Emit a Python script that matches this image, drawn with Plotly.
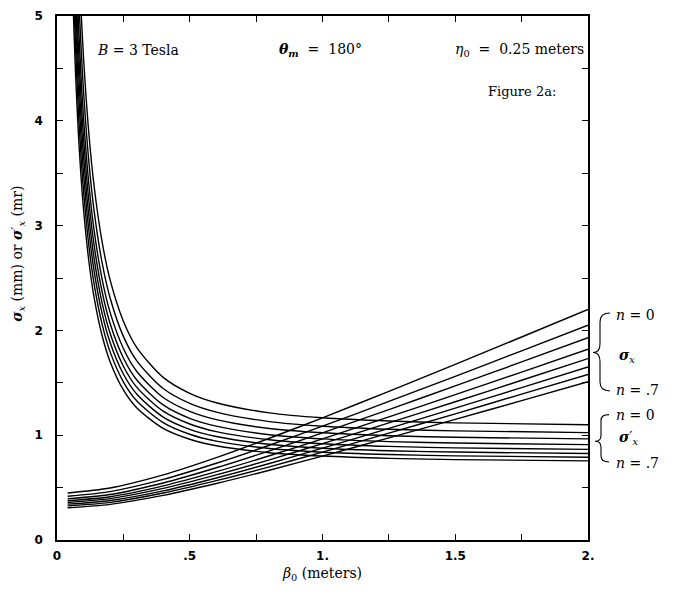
import plotly.graph_objects as go

# ---- data ----
n_labels = ["n=0", "n=.1", "n=.2", "n=.3", "n=.4", "n=.5", "n=.6", "n=.7"]

beta_sx = [0.04, 0.2, 0.4, 0.6, 0.8, 1.0, 1.25, 1.5, 1.75, 2.0]
sigx_n0 = [0.449, 0.496, 0.621, 0.786, 0.971, 1.166, 1.419, 1.676, 1.937, 2.200]
sigx_n1 = [0.418, 0.462, 0.578, 0.732, 0.904, 1.086, 1.322, 1.562, 1.805, 2.050]
sigx_n2 = [0.393, 0.434, 0.544, 0.689, 0.851, 1.023, 1.244, 1.471, 1.699, 1.930]
sigx_n3 = [0.375, 0.413, 0.516, 0.652, 0.804, 0.965, 1.174, 1.387, 1.602, 1.820]
sigx_n4 = [0.358, 0.395, 0.492, 0.621, 0.765, 0.919, 1.117, 1.319, 1.524, 1.731]
sigx_n5 = [0.342, 0.377, 0.469, 0.592, 0.730, 0.876, 1.065, 1.258, 1.454, 1.651]
sigx_n6 = [0.326, 0.359, 0.448, 0.566, 0.698, 0.839, 1.020, 1.204, 1.392, 1.580]
sigx_n7 = [0.308, 0.340, 0.426, 0.539, 0.666, 0.801, 0.974, 1.151, 1.330, 1.511]

beta_sxp = [0.05, 0.06, 0.07, 0.08, 0.09, 0.10, 0.12, 0.14, 0.17, 0.2,
            0.25, 0.3, 0.4, 0.5, 0.6, 0.8, 1.0, 1.25, 1.5, 2.0]
sxp_n0 = [9.009, 7.531, 6.479, 5.693, 5.084, 4.600, 3.879, 3.371, 2.843, 2.482,
          2.088, 1.839, 1.552, 1.400, 1.310, 1.213, 1.166, 1.135, 1.118, 1.100]
sxp_n1 = [8.379, 7.004, 6.026, 5.295, 4.729, 4.279, 3.608, 3.136, 2.644, 2.309,
          1.943, 1.711, 1.445, 1.303, 1.220, 1.130, 1.086, 1.057, 1.041, 1.025]
sxp_n2 = [7.880, 6.587, 5.667, 4.980, 4.448, 4.024, 3.394, 2.949, 2.487, 2.172,
          1.828, 1.610, 1.360, 1.227, 1.148, 1.064, 1.023, 0.995, 0.980, 0.965]
sxp_n3 = [7.510, 6.277, 5.400, 4.745, 4.237, 3.833, 3.232, 2.808, 2.367, 2.066,
          1.737, 1.529, 1.289, 1.161, 1.086, 1.005, 0.965, 0.939, 0.925, 0.910]
sxp_n4 = [7.178, 6.000, 5.161, 4.534, 4.049, 3.663, 3.088, 2.683, 2.261, 1.973,
          1.658, 1.459, 1.229, 1.107, 1.034, 0.957, 0.919, 0.893, 0.879, 0.865]
sxp_n5 = [6.859, 5.734, 4.932, 4.333, 3.870, 3.500, 2.951, 2.563, 2.160, 1.885,
          1.584, 1.393, 1.173, 1.056, 0.987, 0.913, 0.876, 0.852, 0.839, 0.825]
sxp_n6 = [6.527, 5.456, 4.693, 4.124, 3.683, 3.331, 2.809, 2.440, 2.057, 1.795,
          1.509, 1.328, 1.120, 1.009, 0.943, 0.873, 0.838, 0.816, 0.803, 0.790]
sxp_n7 = [6.176, 5.163, 4.442, 3.903, 3.486, 3.154, 2.660, 2.311, 1.949, 1.702,
          1.432, 1.262, 1.065, 0.961, 0.899, 0.833, 0.801, 0.779, 0.767, 0.755]

x_tickvals = [0, 0.5, 1.0, 1.5, 2.0]
x_ticktext = ["0", ".5", "1.", "1.5", "2."]
y_tickvals = [0, 1, 2, 3, 4, 5]
y_ticktext = ["0", "1", "2", "3", "4", "5"]

sigx_all = [sigx_n0, sigx_n1, sigx_n2, sigx_n3, sigx_n4, sigx_n5, sigx_n6, sigx_n7]
sxp_all = [sxp_n0, sxp_n1, sxp_n2, sxp_n3, sxp_n4, sxp_n5, sxp_n6, sxp_n7]

# ---- layout geometry (pixels) ----
W, H = 676, 597
L, R, T, B = 57, 88, 9, 57
PW, PH = W - L - R, H - T - B


def px(X):
    return (X - L) / PW


def py(Y):
    return (H - B - Y) / PH


fig = go.Figure()
line = dict(color="black", width=1.4, shape="spline", smoothing=0.8)
for name, ys in zip(n_labels, sigx_all):
    fig.add_trace(go.Scatter(x=beta_sx, y=ys, mode="lines", line=line,
                             name="σx " + name, showlegend=False, hoverinfo="skip"))
for name, ys in zip(n_labels, sxp_all):
    fig.add_trace(go.Scatter(x=beta_sxp, y=ys, mode="lines", line=line,
                             name="σ'x " + name, showlegend=False, hoverinfo="skip"))

serif = "DejaVu Serif"
ann = []
SP = "&nbsp;"


def txt(X, Y, s, size=14, xanchor="left", yanchor="middle", angle=0):
    ann.append(dict(x=px(X), y=py(Y), xref="paper", yref="paper", text=s,
                    showarrow=False, xanchor=xanchor, yanchor=yanchor,
                    textangle=angle, font=dict(family=serif, size=size, color="black")))


txt(95, 43, "<i>B</i> = 3 Tesla", size=14)
txt(277, 43, "<b><i>θ</i></b><sub><b><i>m</i></b></sub>" + SP + " = " + SP + "180°", size=14)
txt(453, 43, "<i>η</i><sub>0</sub>" + SP + " = " + SP + "0.25 meters", size=14)
txt(486, 86, "Figure 2a:", size=13)
txt(614, 312, "<i>n</i>" + SP + "=" + SP + "0", size=14)
txt(617, 354, "<b><i>σ</i></b><sub><i>x</i></sub>", size=14)
txt(614, 388, "<i>n</i>" + SP + "=" + SP + ".7", size=14)
txt(614, 413, "<i>n</i>" + SP + "=" + SP + "0", size=14)
txt(617, 437, "<b><i>σ</i></b>′<sub><i>x</i></sub>", size=14)
txt(614, 462, "<i>n</i>" + SP + "=" + SP + ".7", size=14)
txt(322, 574, "<i>β</i><sub>0</sub>" + SP + "(meters)", size=14, xanchor="center")
txt(18, 250, "<b><i>σ</i></b><sub><i>x</i></sub>" + SP + "(mm)" + SP + "or" + SP +
    "<b><i>σ</i></b>′<sub><i>x</i></sub>" + SP + "(mr)", size=14, xanchor="center", angle=-90)


def brace(x_end, x_body, x_tip, yt, ym, yb, d=8):
    pts = [
        ("M", [(x_end, yt)]),
        ("Q", [(x_body, yt), (x_body, yt + d)]),
        ("L", [(x_body, ym - d)]),
        ("Q", [(x_body, ym), (x_tip, ym)]),
        ("Q", [(x_body, ym), (x_body, ym + d)]),
        ("L", [(x_body, yb - d)]),
        ("Q", [(x_body, yb), (x_end, yb)]),
    ]
    s = ""
    for cmd, pp in pts:
        s += cmd + " " + " ".join(f"{px(a):.5f},{py(b):.5f}" for a, b in pp) + " "
    return dict(type="path", path=s.strip(), xref="paper", yref="paper",
                line=dict(color="black", width=1.1))


shapes = [brace(610, 600, 593, 310, 350, 389, d=9),
          brace(609, 601, 595, 413, 440, 461, d=6)]

axis_common = dict(showline=True, linecolor="black", linewidth=1.5, mirror="allticks",
                   ticks="inside", ticklen=6, tickwidth=1.2, tickcolor="black",
                   showgrid=False, zeroline=False,
                   tickfont=dict(family="DejaVu Sans", size=12, color="black", weight="bold"))

fig.update_layout(
    width=W, height=H,
    margin=dict(l=L, r=R, t=T, b=B),
    paper_bgcolor="white", plot_bgcolor="white",
    xaxis=dict(range=[0, 2], tickmode="array", tickvals=x_tickvals, ticktext=x_ticktext,
               ticklabelstandoff=4,
               minor=dict(tickmode="array", tickvals=[0.25, 0.75, 1.25, 1.75],
                          ticks="inside", ticklen=6, tickwidth=1.2, tickcolor="black",
                          showgrid=False),
               **axis_common),
    yaxis=dict(range=[0, 5], tickmode="array", tickvals=y_tickvals, ticktext=y_ticktext,
               ticklabelstandoff=10,
               minor=dict(tickmode="array", tickvals=[0.5, 1.5, 2.5, 3.5, 4.5],
                          ticks="inside", ticklen=6, tickwidth=1.2, tickcolor="black",
                          showgrid=False),
               **axis_common),
    annotations=ann,
    shapes=shapes,
)

fig.write_html("out.html", config={"displayModeBar": False},
               post_script="document.body.style.margin='0px';")
